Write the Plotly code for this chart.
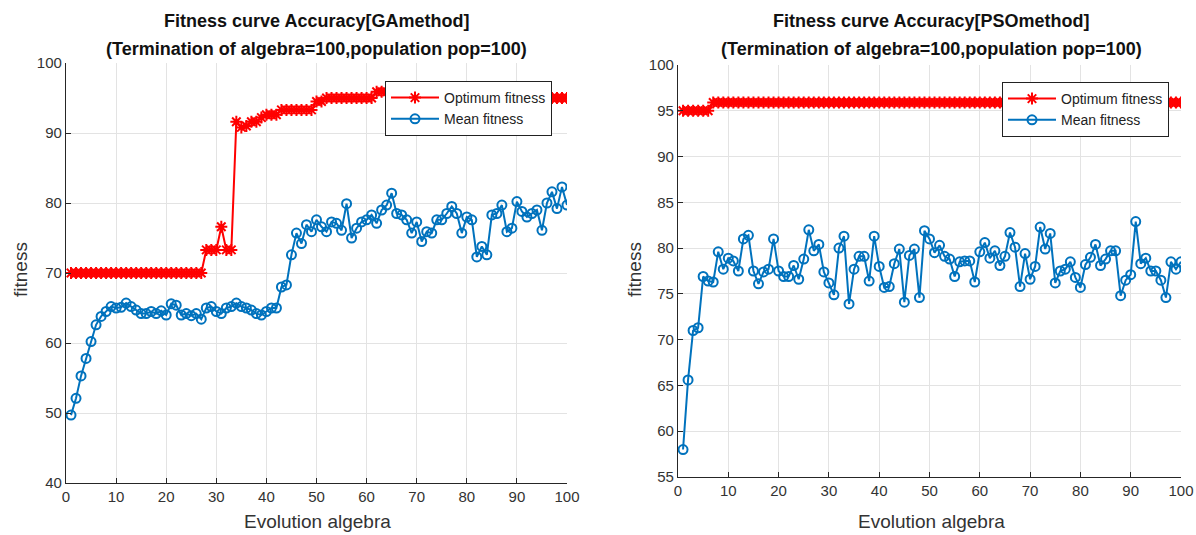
import plotly.graph_objects as go

# ---------------- data ----------------
generations = list(range(1, 101))

ga_optimum = (
    [70.0] * 27
    + [73.3, 73.3, 73.3, 76.6, 73.3, 73.3]
    + [91.6, 90.8, 91.0, 91.6, 91.6, 92.2, 92.6, 92.6, 92.6]
    + [93.3] * 7
    + [94.5, 94.5]
    + [95.0] * 10
    + [95.9, 95.9, 95.9]
    + [95.0] * 36
)

ga_mean = [
    49.7, 52.1, 55.3, 57.8, 60.2, 62.6, 63.8, 64.5, 65.2, 65.0,
    65.1, 65.7, 65.2, 64.7, 64.2, 64.2, 64.5, 64.2, 64.6, 64.0,
    65.6, 65.4, 64.0, 64.2, 63.9, 64.2, 63.4, 65.0, 65.2, 64.5,
    64.2, 65.0, 65.2, 65.7, 65.2, 65.0, 64.7, 64.2, 64.0, 64.5,
    65.0, 65.0, 68.0, 68.3, 72.6, 75.7, 74.2, 76.9, 75.9, 77.6,
    76.6, 75.9, 77.3, 77.1, 76.1, 79.9, 75.0, 76.4, 77.3, 77.6,
    78.3, 77.1, 79.0, 79.7, 81.4, 78.5, 78.3, 77.6, 75.7, 77.3,
    74.5, 75.9, 75.7, 77.6, 77.6, 78.5, 79.5, 78.5, 75.7, 78.0,
    77.6, 72.3, 73.8, 72.6, 78.3, 78.5, 79.7, 75.9, 76.4, 80.2,
    78.8, 78.0, 78.5, 79.0, 76.1, 80.0, 81.6, 79.2, 82.3, 79.7,
]

pso_optimum = [95.0] * 6 + [95.9] * 94

pso_mean = [
    58.0, 65.6, 71.0, 71.3, 76.9, 76.4, 76.3, 79.6, 77.7, 78.9,
    78.6, 77.5, 81.0, 81.4, 77.5, 76.1, 77.4, 77.7, 81.0, 77.5,
    76.9, 76.9, 78.1, 76.6, 78.8, 82.0, 79.7, 80.4, 77.4, 76.2,
    74.9, 80.0, 81.3, 73.9, 77.7, 79.1, 79.1, 76.4, 81.3, 78.0,
    75.7, 75.8, 78.3, 79.9, 74.1, 79.2, 79.9, 74.6, 81.9, 81.0,
    79.5, 80.3, 79.1, 78.8, 76.9, 78.5, 78.6, 78.6, 76.3, 79.6,
    80.6, 78.9, 79.7, 78.1, 79.1, 81.7, 80.1, 75.8, 79.4, 76.6,
    78.0, 82.3, 79.9, 81.6, 76.2, 77.5, 77.7, 78.5, 76.8, 75.7,
    78.2, 79.0, 80.4, 78.1, 78.8, 79.7, 79.7, 74.8, 76.5, 77.1,
    82.9, 78.3, 78.9, 77.5, 77.5, 76.5, 74.6, 78.5, 77.7, 78.5,
]

titles = ["Fitness curve Accuracy[GAmethod]", "Fitness curve Accuracy[PSOmethod]"]
subtitle = "(Termination of algebra=100,population pop=100)"
x_label = "Evolution algebra"
y_label = "fitness"
name_opt = "Optimum fitness"
name_mean = "Mean fitness"

# ---------------- styling ----------------
W, H = 1196, 535
RED = "#FF0000"
BLUE = "#0072BD"
GRID = "#E3E3E3"
AX = "#262626"
FONT = "Liberation Sans, Arial, sans-serif"


def px_x(p):
    return p / W


def px_y(p):
    return (H - p) / H


fig = go.Figure()


def add_pair(opt, mean, xa, ya, legend):
    fig.add_trace(go.Scatter(
        x=generations, y=opt, mode="lines+markers", name=name_opt,
        xaxis=xa, yaxis=ya, legend=legend,
        line=dict(color=RED, width=2),
        marker=dict(symbol="asterisk-open", size=10, color=RED,
                    line=dict(color=RED, width=2)),
    ))
    fig.add_trace(go.Scatter(
        x=generations, y=mean, mode="lines+markers", name=name_mean,
        xaxis=xa, yaxis=ya, legend=legend,
        line=dict(color=BLUE, width=2),
        marker=dict(symbol="circle-open", size=9, color=BLUE,
                    line=dict(color=BLUE, width=2)),
    ))


add_pair(ga_optimum, ga_mean, "x", "y", "legend")
add_pair(pso_optimum, pso_mean, "x2", "y2", "legend2")

axis_common = dict(
    showgrid=True, gridcolor=GRID, gridwidth=1,
    showline=True, linecolor=AX, linewidth=1.2, mirror=False,
    ticks="inside", ticklen=5, tickcolor=AX, tickwidth=1,
    tickfont=dict(family=FONT, size=15, color="#333333"),
    zeroline=False, automargin=False, ticklabeloverflow="allow",
)

legend_common = dict(
    xanchor="right", yanchor="top",
    bgcolor="white", bordercolor="#222222", borderwidth=1,
    font=dict(family=FONT, size=14, color="#222222"),
    tracegroupgap=0, itemwidth=48,
)

fig.update_layout(
    width=W, height=H,
    margin=dict(l=0, r=0, t=0, b=0, pad=0),
    paper_bgcolor="white", plot_bgcolor="white",
    showlegend=True,
    xaxis=dict(domain=[px_x(66), px_x(567)], range=[0, 100], dtick=10,
               anchor="y", **axis_common),
    yaxis=dict(domain=[px_y(483), px_y(63)], range=[40, 100], dtick=10,
               anchor="x", **axis_common),
    xaxis2=dict(domain=[px_x(678), px_x(1181)], range=[0, 100], dtick=10,
                anchor="y2", **axis_common),
    yaxis2=dict(domain=[px_y(477), px_y(65)], range=[55, 100], dtick=5,
                anchor="x2", **axis_common),
    legend=dict(x=px_x(552), y=px_y(81), **legend_common),
    legend2=dict(x=px_x(1169), y=px_y(82), **legend_common),
)

annots = []
for cx, t in [(316, titles[0]), (931, titles[1])]:
    annots.append(dict(x=px_x(cx), y=px_y(21), xref="paper", yref="paper",
                       xanchor="center", yanchor="middle",
                       text="<b>" + t + "</b>", showarrow=False,
                       font=dict(family=FONT, size=18, color="#111111")))
    annots.append(dict(x=px_x(cx), y=px_y(49), xref="paper", yref="paper",
                       xanchor="center", yanchor="middle",
                       text="<b>" + subtitle + "</b>", showarrow=False,
                       font=dict(family=FONT, size=18, color="#111111")))
for cx in [317, 931]:
    annots.append(dict(x=px_x(cx), y=px_y(521), xref="paper", yref="paper",
                       xanchor="center", yanchor="middle",
                       text=x_label, showarrow=False,
                       font=dict(family=FONT, size=19, color="#333333")))
for cx in [20, 634]:
    annots.append(dict(x=px_x(cx), y=px_y(270), xref="paper", yref="paper",
                       xanchor="center", yanchor="middle",
                       text=y_label, showarrow=False, textangle=-90,
                       font=dict(family=FONT, size=19, color="#333333")))
fig.update_layout(annotations=annots)

# remove the default page margin so the figure fills the window exactly
fig.write_html(
    "out.html",
    config={"displayModeBar": False},
    post_script="document.body.style.margin='0';document.body.style.overflow='hidden';",
)
